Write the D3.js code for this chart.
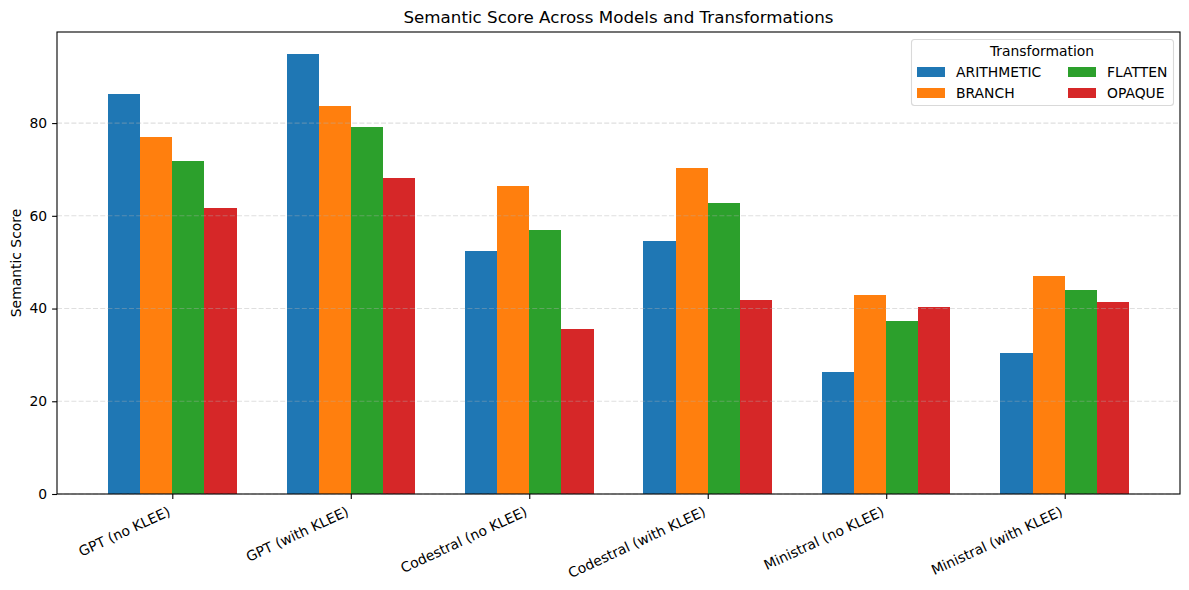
<!DOCTYPE html>
<html><head><meta charset="utf-8">
<script src="https://cdn.jsdelivr.net/npm/d3@7"></script>
<style>body{margin:0;background:#fff}svg{display:block;font-family:"DejaVu Sans",sans-serif}</style>
</head><body>
<svg id="chart" width="1189" height="590"></svg>
<script>
const categories = ["GPT (no KLEE)","GPT (with KLEE)","Codestral (no KLEE)","Codestral (with KLEE)","Ministral (no KLEE)","Ministral (with KLEE)"];
const seriesNames = ["ARITHMETIC","BRANCH","FLATTEN","OPAQUE"];
const arithmetic = [86.3, 94.9, 52.4, 54.6, 26.3, 30.4];
const branch     = [77.0, 83.7, 66.5, 70.4, 43.0, 47.0];
const flatten    = [71.9, 79.2, 57.0, 62.8, 37.3, 44.0];
const opaque     = [61.7, 68.2, 35.6, 41.9, 40.4, 41.4];
const yTicks = [0, 20, 40, 60, 80];
const colors = ["#1f77b4","#ff7f0e","#2ca02c","#d62728"];

const series = [arithmetic, branch, flatten, opaque];
const svg = d3.select("#chart");
const L = 57, R = 1180, T = 32, B = 494;
const barW = 0.18;
const xMin = -2*barW - 0.05*(categories.length-1+4*barW);
const xMax = categories.length-1 + 2*barW + 0.05*(categories.length-1+4*barW);
const x = d3.scaleLinear().domain([xMin, xMax]).range([L, R]);
const maxV = d3.max(series.flat());
const y = d3.scaleLinear().domain([0, maxV*1.05]).range([B, T]);

// bars
series.forEach((vals, si) => {
  svg.append("g").attr("shape-rendering", "crispEdges").selectAll("rect").data(vals).join("rect")
    .attr("x", (d,i) => x(i + (si-2)*barW))
    .attr("width", (d,i) => x(i + (si-1)*barW) - x(i + (si-2)*barW))
    .attr("y", d => y(d))
    .attr("height", d => y(0) - y(d))
    .attr("fill", colors[si]);
});

// grid
svg.append("g").selectAll("line").data(yTicks).join("line")
  .attr("x1", L).attr("x2", R)
  .attr("y1", d => y(d)).attr("y2", d => y(d))
  .attr("stroke", "#b0b0b0").attr("stroke-opacity", 0.4)
  .attr("stroke-width", 1.1).attr("stroke-dasharray", "5,2.2");

// axes
const yAxis = d3.axisLeft(y).tickValues(yTicks).tickSize(4.9).tickPadding(4.9).tickFormat(d3.format("d"));
const gy = svg.append("g").attr("transform", `translate(${L},0)`).call(yAxis);
gy.select(".domain").remove();
gy.selectAll("text").attr("font-size", 13.9).attr("fill", "#000").attr("font-family", "DejaVu Sans");
gy.selectAll("line").attr("stroke", "#000").attr("stroke-width", 1.1);

const xAxis = d3.axisBottom(x).tickValues(d3.range(categories.length)).tickSize(4.9).tickPadding(4.9).tickFormat(i => categories[i]);
const gx = svg.append("g").attr("transform", `translate(0,${B})`).call(xAxis);
gx.select(".domain").remove();
gx.selectAll("line").attr("stroke", "#000").attr("stroke-width", 1.1);
gx.selectAll("text").attr("font-size", 13.9).attr("fill", "#000").attr("font-family", "DejaVu Sans")
  .attr("text-anchor", "end").attr("x", 0).attr("y", 0).attr("dy", 0)
  .attr("transform", "translate(-1.5,21) rotate(-25)");

// frame
svg.append("rect").attr("x", L).attr("y", T).attr("width", R-L).attr("height", B-T)
  .attr("fill", "none").attr("stroke", "#000").attr("stroke-width", 1.1);

// title & label
svg.append("text").attr("x", (L+R)/2).attr("y", 23).attr("text-anchor", "middle")
  .attr("font-size", 16.7).text("Semantic Score Across Models and Transformations");
svg.append("text").attr("transform", `translate(21,${(T+B)/2}) rotate(-90)`).attr("text-anchor", "middle")
  .attr("font-size", 13.9).text("Semantic Score");

// legend
const lg = svg.append("g");
lg.append("rect").attr("x", 911.5).attr("y", 39.5).attr("width", 262).attr("height", 66).attr("rx", 3)
  .attr("fill", "#fff").attr("fill-opacity", 0.8).attr("stroke", "#d9d9d9").attr("stroke-width", 1.1);
lg.append("text").attr("x", 1042).attr("y", 56).attr("text-anchor", "middle").attr("font-size", 13.9).text("Transformation");
seriesNames.forEach((name, i) => {
  const col = Math.floor(i/2), row = i%2;
  const hx = col ? 1068 : 917;
  const ry = row ? 93 : 72;
  lg.append("rect").attr("x", hx).attr("y", ry-5).attr("width", 28).attr("height", 10).attr("fill", colors[i]);
  lg.append("text").attr("x", hx+39).attr("y", ry+5).attr("font-size", 13.9).text(name);
});
</script>
</body></html>
